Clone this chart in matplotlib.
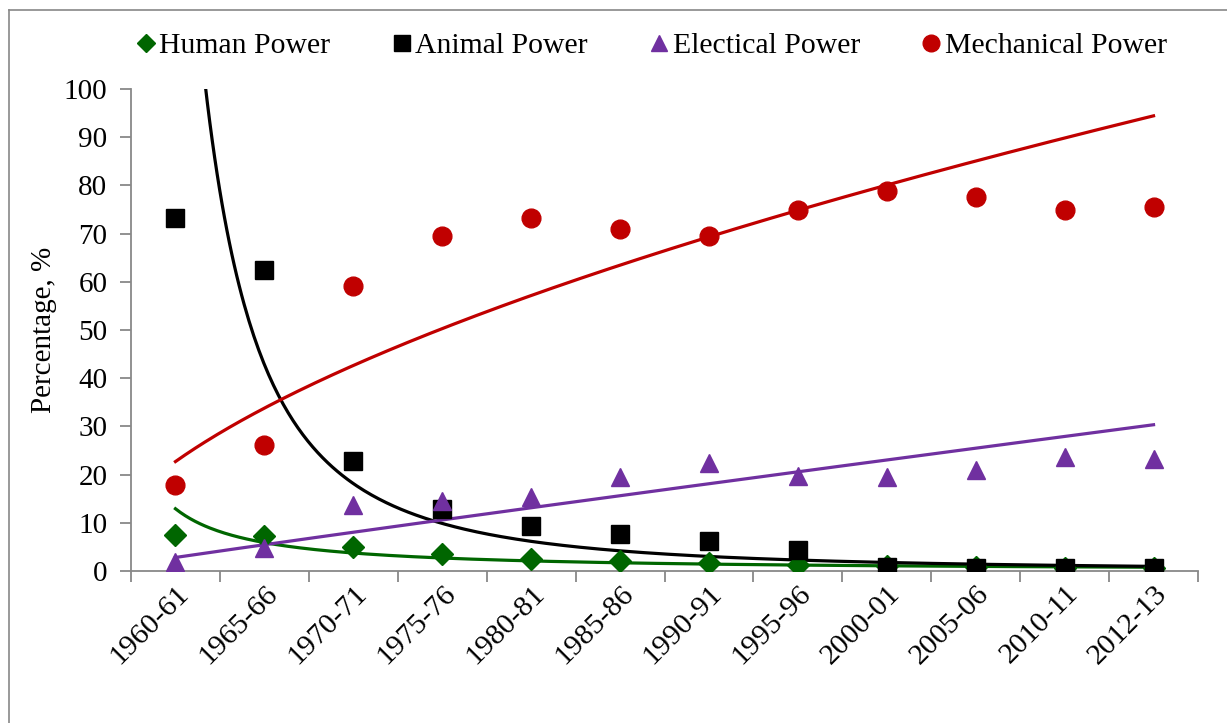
import numpy as np
import matplotlib
matplotlib.use("Agg")
import matplotlib.pyplot as plt
from matplotlib.lines import Line2D
from matplotlib.transforms import ScaledTranslation

years = ["1960-61", "1965-66", "1970-71", "1975-76", "1980-81", "1985-86",
         "1990-91", "1995-96", "2000-01", "2005-06", "2010-11", "2012-13"]
human = [7.5, 7.3, 5.0, 3.5, 2.4, 2.1, 1.7, 1.2, 1.0, 0.8, 0.7, 0.6]
animal = [73.2, 62.4, 22.8, 12.9, 9.3, 7.7, 6.2, 4.3, 0.8, 0.7, 0.7, 0.7]
electrical = [1.8, 4.7, 13.7, 14.5, 15.3, 19.6, 22.4, 19.8, 19.4, 20.9, 23.6, 23.2]
mechanical = [17.8, 26.1, 59.1, 69.5, 73.3, 70.9, 69.5, 74.8, 78.9, 77.5, 75.0, 75.6]

GREEN = "#006600"
BLACK = "#000000"
PURPLE = "#7030A0"
RED = "#C00000"
AXIS = "#888888"

plt.rcParams["font.family"] = ["Liberation Serif", "DejaVu Serif"]


def power_trend(y, xs):
    # excel style power trendline: ln y = ln a + b ln x
    x = np.arange(1, len(y) + 1)
    b, lna = np.polyfit(np.log(x), np.log(y), 1)
    return np.exp(lna) * xs ** b


fig = plt.figure(figsize=(12.27, 7.23), dpi=100)
ax = fig.add_axes([131 / 1227, 1 - 571 / 723, 1067 / 1227, 482 / 723])

pos = np.arange(len(years))
xs = np.linspace(1, len(years), 400)
xp = xs - 1

ax.plot(xp, power_trend(human, xs), color=GREEN, lw=2.3, zorder=2)
ax.plot(xp, power_trend(animal, xs), color=BLACK, lw=2.3, zorder=2)
ax.plot(xp, power_trend(electrical, xs), color=PURPLE, lw=2.3, zorder=2)
ax.plot(xp, power_trend(mechanical, xs), color=RED, lw=2.3, zorder=2)

ax.plot(pos, human, "D", color=GREEN, ms=11, ls="none", zorder=3)
ax.plot(pos, animal, "s", color=BLACK, ms=13.5, ls="none", zorder=3)
ax.plot(pos, electrical, "^", color=PURPLE, ms=13.5, ls="none", zorder=3)
ax.plot(pos, mechanical, "o", color=RED, ms=13.5, ls="none", zorder=3)

ax.set_xlim(-0.5, len(years) - 0.5)
ax.set_ylim(0, 100)
ax.set_yticks(range(0, 101, 10))
ax.set_xticks(pos)
ax.set_xticklabels(years, rotation=45, ha="right", va="top",
                   rotation_mode="anchor", fontsize=21.5)
shift = ScaledTranslation(-8 / 100, 0, fig.dpi_scale_trans)
for lab in ax.get_xticklabels():
    lab.set_transform(lab.get_transform() + shift)
ax.set_xticks(np.arange(-0.5, len(years), 1), minor=True)
ax.tick_params(axis="x", which="major", length=0, pad=7)
ax.tick_params(axis="x", which="minor", length=8, width=1.3, color=AXIS,
               direction="out")
ax.tick_params(axis="y", length=8, width=1.3, color=AXIS, labelsize=21,
               pad=9)
for s in ("top", "right"):
    ax.spines[s].set_visible(False)
for s in ("left", "bottom"):
    ax.spines[s].set_color(AXIS)
    ax.spines[s].set_linewidth(1.3)
ax.set_ylabel("Percentage, %", fontsize=21, labelpad=5)

handles = [
    Line2D([], [], marker="D", color=GREEN, ls="none", ms=9),
    Line2D([], [], marker="s", color=BLACK, ls="none", ms=12),
    Line2D([], [], marker="^", color=PURPLE, ls="none", ms=11),
    Line2D([], [], marker="o", color=RED, ls="none", ms=12),
]
labels = ["Human Power", "Animal Power", "Electical Power", "Mechanical Power"]
fig.legend(handles, labels, loc="center", bbox_to_anchor=(652 / 1227, 1 - 46 / 723),
           ncol=4, frameon=False, fontsize=21.4, handlelength=0.6,
           handletextpad=0.15, columnspacing=2.1, borderpad=0)

# chart area border (only top and left edges fall inside the picture)
fig.add_artist(plt.Line2D([9 / 1227, 1.0], [1 - 10 / 723, 1 - 10 / 723],
                          transform=fig.transFigure, color=AXIS, lw=1.2))
fig.add_artist(plt.Line2D([9 / 1227, 9 / 1227], [0.0, 1 - 10 / 723],
                          transform=fig.transFigure, color=AXIS, lw=1.2))

fig.savefig("out.png", dpi=100)
